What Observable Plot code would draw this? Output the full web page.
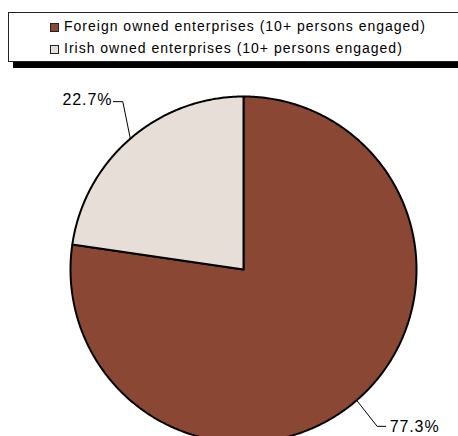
<!DOCTYPE html>
<html>
<head>
<meta charset="utf-8">
<script src="https://cdn.jsdelivr.net/npm/d3@7"></script>
<script src="https://cdn.jsdelivr.net/npm/@observablehq/plot@0.6"></script>
<style>
  html, body { margin: 0; padding: 0; background: #fff; overflow: hidden; }
  #wrap { position: relative; width: 458px; height: 436px; overflow: hidden; font-family: "Liberation Sans", Arial, sans-serif; }
  #legend { position: relative; height: 70px; }
  #legend .box { position: absolute; left: 8px; top: 12px; width: 480px; height: 48px; border: 1px solid #222; background: #fff; box-shadow: 5px 6px 0 0 #000; }
  #legend .item { position: absolute; left: 50px; font-size: 14px; letter-spacing: 1px; color: #000; white-space: nowrap; line-height: 16px; }
  #legend .sw { display: inline-block; width: 7px; height: 7px; border: 1px solid #222; vertical-align: -1px; margin-right: 5px; }
  #chart svg text { letter-spacing: 0.9px; }
</style>
</head>
<body>
<div id="wrap">
  <div id="legend"><div class="box"></div></div>
  <div id="chart"></div>
</div>
<script>
const categories = ["Foreign owned enterprises (10+ persons engaged)", "Irish owned enterprises (10+ persons engaged)"];
const shares = [77.3, 22.7];
const labels = ["77.3%", "22.7%"];
const colors = ["#8a4733", "#e7dfd7"];

// legend
const legend = document.getElementById("legend");
categories.forEach((c, i) => {
  const d = document.createElement("div");
  d.className = "item";
  d.style.top = (18 + i * 22) + "px";
  d.innerHTML = `<span class="sw" style="background:${colors[i]}"></span>` + c;
  legend.appendChild(d);
});

// pie geometry (angles clockwise from 12 o'clock; first slice starts at top going clockwise)
const total = d3.sum(shares);
let acc = 0;
const slices = shares.map((v, i) => {
  const a0 = acc / total * 2 * Math.PI;
  acc += v;
  const a1 = acc / total * 2 * Math.PI;
  const pts = [{x: 0, y: 0}];
  const n = Math.max(2, Math.ceil((a1 - a0) / (Math.PI / 360)));
  for (let k = 0; k <= n; k++) {
    const a = a0 + (a1 - a0) * k / n;
    pts.push({x: Math.sin(a), y: Math.cos(a)});
  }
  pts.push({x: 0, y: 0});
  return {i, a0, a1, mid: (a0 + a1) / 2, pts};
});

const R = 173; // pixels per data unit (for leader offsets)
const leaderOffsets = [
  {bx: 20.5, by: -26, ex: 8.5, anchor: "start", dx: 4, dy: 1},
  {bx: -7.5, by: 37, ex: -9.5, anchor: "end", dx: -1, dy: -2}
];
const leaders = slices.map(s => {
  const o = leaderOffsets[s.i];
  const e = {x: Math.sin(s.mid), y: Math.cos(s.mid)};
  const b = {x: e.x + o.bx / R, y: e.y + o.by / R};
  const t = {x: b.x + o.ex / R, y: b.y};
  return {i: s.i, pts: [e, b, t], end: t, o};
});

const marks = [];
slices.forEach(s => {
  marks.push(Plot.line(s.pts, {x: "x", y: "y", fill: colors[s.i], stroke: "#000", strokeWidth: 2, curve: "linear", strokeLinejoin: "miter"}));
});
leaders.forEach(l => {
  marks.push(Plot.line(l.pts, {x: "x", y: "y", stroke: "#000", strokeWidth: 1, curve: "linear"}));
  marks.push(Plot.text([l.end], {x: "x", y: "y", text: () => labels[l.i], textAnchor: l.o.anchor, dx: l.o.dx, dy: l.o.dy, fontSize: 16, fill: "#000"}));
});

const plot = Plot.plot({
  width: 458,
  height: 366,
  margin: 0,
  x: {domain: [-1, 1], range: [70, 416], axis: null},
  y: {domain: [-1, 1], range: [372, 26], axis: null},
  style: {fontFamily: '"Liberation Sans", Arial, sans-serif', background: "transparent", overflow: "visible"},
  marks
});
document.getElementById("chart").appendChild(plot);
</script>
</body>
</html>
